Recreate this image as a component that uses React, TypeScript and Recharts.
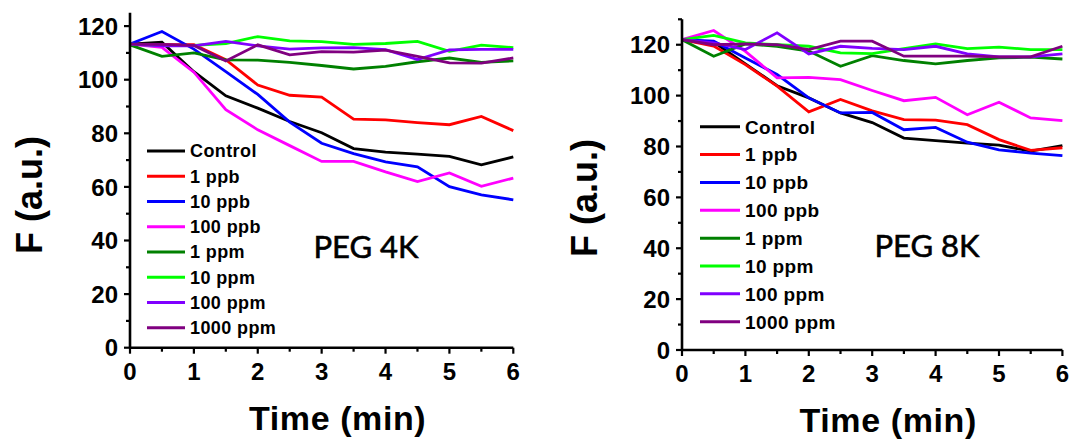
import React from 'react';
import { LineChart, Line, XAxis, YAxis } from 'recharts';

// Sampling times (min)
const times = [0, 0.5, 1, 1.5, 2, 2.5, 3, 3.5, 4, 4.5, 5, 5.5, 6];

const seriesNames = ['Control', '1 ppb', '10 ppb', '100 ppb', '1 ppm', '10 ppm', '100 ppm', '1000 ppm'];
const seriesKeys = ['control', 'ppb1', 'ppb10', 'ppb100', 'ppm1', 'ppm10', 'ppm100', 'ppm1000'];
const seriesColors = ['#000000', '#ff0000', '#0000ff', '#ff00ff', '#008000', '#00ff00', '#8000ff', '#800080'];

// PEG 4K fluorescence (a.u.)
const control4k = [113.3, 114, 103, 94, 89.4, 84.4, 80.2, 74.3, 73, 72.2, 71.4, 68.2, 71.2];
const ppb1_4k = [113.3, 113.1, 113.1, 107.5, 98, 94.2, 93.5, 85.3, 85, 84, 83.2, 86.3, 81];
const ppb10_4k = [113.3, 118, 111.4, 103, 94.5, 84.2, 76.3, 72.4, 69.3, 67.5, 60.1, 57, 55.2];
const ppb100_4k = [113.3, 112.1, 102.8, 88.8, 81.3, 75.4, 69.5, 69.5, 65.6, 62, 65.2, 60.2, 63.3];
const ppm1_4k = [113, 108.7, 110, 107.4, 107.3, 106.5, 105.3, 104, 105, 106.7, 108.1, 106.5, 107];
const ppm10_4k = [113.3, 112.7, 112.8, 113.5, 116.1, 114.5, 114.2, 113.2, 113.5, 114.3, 110.6, 112.9, 112];
const ppm100_4k = [113.3, 112.6, 112.6, 114.3, 112.6, 111.4, 111.9, 112, 111.2, 107.5, 111.1, 111.3, 111.3];
const ppm1000_4k = [113.3, 113.2, 112.8, 107, 113, 109.3, 110.5, 110.3, 111, 108.7, 106.3, 106.2, 108.1];

// PEG 8K fluorescence (a.u.)
const control8k = [122, 121, 112.5, 103.9, 99.1, 93.2, 89.4, 83.3, 82.3, 81.3, 80.5, 78.2, 80.3];
const ppb1_8k = [122, 119.5, 112.2, 103.7, 93.6, 98.5, 94, 90.6, 90.4, 88.6, 82.7, 78.5, 79.5];
const ppb10_8k = [122, 121.4, 114.8, 108.3, 99.1, 93.2, 93.4, 86.6, 87.5, 81.7, 78.7, 77.4, 76.4];
const ppb100_8k = [122, 125.6, 117.4, 107, 107.2, 106.3, 102, 98, 99.3, 92.5, 97.4, 91.2, 90.2];
const ppm1_8k = [122, 115.5, 120.3, 119.4, 117.5, 111.5, 115.7, 113.8, 112.5, 113.8, 114.8, 115.1, 114.4];
const ppm10_8k = [122, 123.7, 120.7, 120, 119.4, 116.8, 116.5, 118.5, 120.3, 118.5, 119.1, 118.1, 118.1];
const ppm100_8k = [122, 120.7, 118.1, 124.7, 116.4, 119.4, 118.6, 118.1, 119.4, 116.4, 115.2, 115.2, 116.4];
const ppm1000_8k = [122, 120, 120.3, 120, 118.1, 121.4, 121.4, 115.5, 115.5, 115.5, 115.2, 115.2, 119.4];

const xTicks = [0, 0.5, 1, 1.5, 2, 2.5, 3, 3.5, 4, 4.5, 5, 5.5, 6];
const yTicks4k = [0, 10, 20, 30, 40, 50, 60, 70, 80, 90, 100, 110, 120];
const yTicks8k = [0, 10, 20, 30, 40, 50, 60, 70, 80, 90, 100, 110, 120, 130];

const FONT = '"Liberation Sans", Arial, sans-serif';

function buildRows(values: number[][]) {
  return times.map((t, i) => {
    const row: Record<string, number> = { t };
    seriesKeys.forEach((k, s) => {
      row[k] = values[s][i];
    });
    return row;
  });
}

const rows4k = buildRows([control4k, ppb1_4k, ppb10_4k, ppb100_4k, ppm1_4k, ppm10_4k, ppm100_4k, ppm1000_4k]);
const rows8k = buildRows([control8k, ppb1_8k, ppb10_8k, ppb100_8k, ppm1_8k, ppm10_8k, ppm100_8k, ppm1000_8k]);

const XTick = (props: any) => {
  const { x, y, payload } = props;
  const v = payload.value as number;
  const major = Number.isInteger(v);
  return (
    <g>
      <line x1={x} x2={x} y1={y} y2={y + (major ? 6 : 4)} stroke="#000" strokeWidth={2.2} />
      {major && (
        <text x={x} y={y + 32} textAnchor="middle" fontFamily={FONT} fontWeight="bold" fontSize={24} fill="#000">
          {v}
        </text>
      )}
    </g>
  );
};

const YTick = (props: any) => {
  const { x, y, payload } = props;
  const v = payload.value as number;
  const major = v % 20 === 0;
  return (
    <g>
      <line x1={x} x2={x - (major ? 6 : 4)} y1={y} y2={y} stroke="#000" strokeWidth={2.2} />
      {major && (
        <text x={x - 12} y={y} dy="0.36em" textAnchor="end" fontFamily={FONT} fontWeight="bold" fontSize={24} fill="#000">
          {v}
        </text>
      )}
    </g>
  );
};

type PanelProps = {
  rows: Record<string, number>[];
  left: number;
  width: number;
  margin: { top: number; right: number; bottom: number; left: number };
  yMax: number;
  yTicks: number[];
  title: string;
  titleX: number;
  titleY: number;
  yLabelX: number;
  yLabelY: number;
  legendX: number;
  legendY: number;
  legendStep: number;
  legendFont: number;
  legendLine: number;
};

function Panel(p: PanelProps) {
  return (
    <div style={{ position: 'absolute', left: p.left, top: 0 }}>
      <LineChart width={p.width} height={443} data={p.rows} margin={p.margin}>
        <XAxis
          dataKey="t"
          type="number"
          domain={[0, 6]}
          ticks={xTicks}
          interval={0}
          height={30}
          tickSize={0}
          tickMargin={0}
          tickLine={false}
          axisLine={{ stroke: '#000', strokeWidth: 2.6 }}
          tick={<XTick />}
          label={{
            content: (lp: any) => {
              const vb = lp.viewBox;
              return (
                <text
                  x={vb.x + vb.width / 2 + 16}
                  y={vb.y + 82}
                  textAnchor="middle"
                  fontFamily={FONT}
                  fontWeight="bold"
                  fontSize={34}
                  letterSpacing={0.6}
                  fill="#000"
                >
                  Time (min)
                </text>
              );
            },
          }}
        />
        <YAxis
          type="number"
          domain={[0, p.yMax]}
          ticks={p.yTicks}
          interval={0}
          width={60}
          tickSize={0}
          tickMargin={0}
          tickLine={false}
          axisLine={{ stroke: '#000', strokeWidth: 2.6 }}
          tick={<YTick />}
          label={{
            content: () => (
              <text
                x={p.yLabelX}
                y={p.yLabelY}
                transform={`rotate(-90 ${p.yLabelX} ${p.yLabelY})`}
                textAnchor="middle"
                dominantBaseline="central"
                fontFamily={FONT}
                fontWeight="bold"
                fontSize={36}
                fill="#000"
              >
                F (a.u.)
              </text>
            ),
          }}
        />
        {seriesKeys.map((k, i) => (
          <Line
            key={k}
            type="linear"
            dataKey={k}
            name={seriesNames[i]}
            stroke={seriesColors[i]}
            strokeWidth={2.8}
            dot={false}
            isAnimationActive={false}
          />
        ))}
        <g>
          {seriesNames.map((name, i) => {
            const yy = p.legendY + i * p.legendStep;
            return (
              <g key={name}>
                <line
                  x1={p.legendX}
                  x2={p.legendX + p.legendLine}
                  y1={yy}
                  y2={yy}
                  stroke={seriesColors[i]}
                  strokeWidth={3}
                />
                <text
                  x={p.legendX + p.legendLine + 5}
                  y={yy}
                  dy="0.36em"
                  fontFamily={FONT}
                  fontWeight="bold"
                  fontSize={p.legendFont}
                  letterSpacing={0.4}
                  fill="#000"
                >
                  {name}
                </text>
              </g>
            );
          })}
        </g>
        <text
          x={p.titleX}
          y={p.titleY}
          textAnchor="middle"
          dominantBaseline="central"
          fontFamily="Lato, 'Open Sans', sans-serif"
          fontSize={31}
          stroke="#000"
          strokeWidth={0.6}
          fill="#000"
        >
          {p.title}
        </text>
      </LineChart>
    </div>
  );
}

export default function App() {
  return (
    <div style={{ position: 'absolute', left: 0, top: 0, width: 1086, height: 443, background: '#fff' }}>
      <Panel
        rows={rows4k}
        left={0}
        width={540}
        margin={{ top: 12.7, right: 26.7, bottom: 65.3, left: 70 }}
        yMax={125}
        yTicks={yTicks4k}
        title="PEG 4K"
        titleX={366}
        titleY={246}
        yLabelX={29}
        yLabelY={195}
        legendX={147}
        legendY={151}
        legendStep={25.25}
        legendFont={18}
        legendLine={38}
      />
      <Panel
        rows={rows8k}
        left={560}
        width={526}
        margin={{ top: 19.3, right: 23.6, bottom: 63, left: 62 }}
        yMax={130}
        yTicks={yTicks8k}
        title="PEG 8K"
        titleX={367}
        titleY={245}
        yLabelX={24}
        yLabelY={198}
        legendX={140}
        legendY={126.7}
        legendStep={27.86}
        legendFont={19}
        legendLine={40}
      />
    </div>
  );
}
